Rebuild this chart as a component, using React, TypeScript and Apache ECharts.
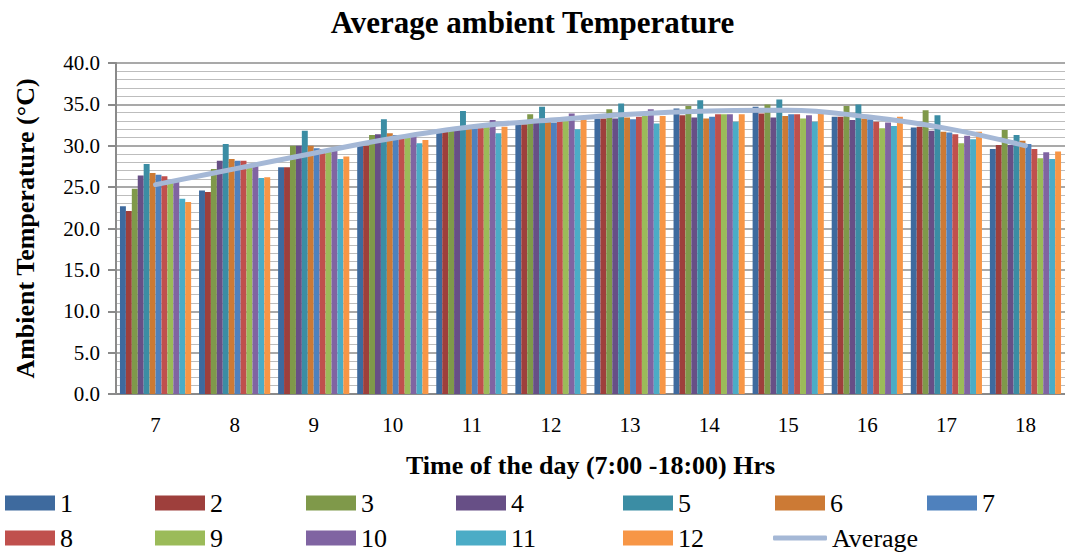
import React, { useEffect, useRef } from "react";
import * as echarts from "echarts";

const categories = ["7", "8", "9", "10", "11", "12", "13", "14", "15", "16", "17", "18"];
const seriesNames = ["1", "2", "3", "4", "5", "6", "7", "8", "9", "10", "11", "12"];
const s1 = [22.7, 24.6, 27.4, 30.0, 31.6, 32.6, 33.3, 34.5, 34.7, 33.5, 32.2, 29.6];
const s2 = [22.1, 24.4, 27.4, 30.0, 31.7, 32.6, 33.3, 33.7, 33.9, 33.5, 32.3, 30.1];
const s3 = [24.8, 27.2, 30.0, 31.3, 31.9, 33.8, 34.4, 34.8, 35.0, 34.8, 34.3, 31.9];
const s4 = [26.4, 28.2, 30.0, 31.4, 31.9, 32.8, 33.3, 33.4, 33.4, 33.1, 31.8, 30.1];
const s5 = [27.8, 30.2, 31.8, 33.2, 34.2, 34.7, 35.1, 35.5, 35.6, 35.0, 33.7, 31.3];
const s6 = [26.7, 28.4, 30.0, 31.5, 32.1, 32.9, 33.4, 33.3, 33.6, 33.3, 31.7, 30.6];
const s7 = [26.5, 28.2, 29.7, 31.3, 32.1, 32.8, 33.2, 33.5, 33.8, 33.2, 31.6, 30.2];
const s8 = [26.3, 28.2, 29.6, 31.2, 32.2, 33.0, 33.5, 33.8, 33.8, 32.9, 31.4, 29.6];
const s9 = [25.5, 27.8, 29.6, 31.2, 32.3, 33.1, 33.6, 33.8, 33.3, 32.1, 30.3, 28.5];
const s10 = [25.8, 27.6, 29.7, 31.2, 33.1, 33.9, 34.4, 33.8, 33.7, 32.8, 31.2, 29.2];
const s11 = [23.6, 26.1, 28.4, 30.3, 31.5, 32.0, 32.7, 32.9, 32.9, 32.4, 30.8, 28.4];
const s12 = [23.2, 26.2, 28.7, 30.7, 32.3, 33.2, 33.6, 33.8, 34.3, 33.5, 31.7, 29.3];
const average = [25.3, 27.2, 29.1, 30.9, 32.3, 33.1, 33.8, 34.2, 34.3, 33.5, 32.1, 30.0];

const seriesValues = [s1, s2, s3, s4, s5, s6, s7, s8, s9, s10, s11, s12];
const colors = [
  "#3E6A9E", "#9E3F3C", "#7F994A", "#674F86", "#3B8DA4", "#CC7A35",
  "#4F81BD", "#C0504D", "#9BBB59", "#8064A2", "#4BACC6", "#F79646",
];
const avgColor = "#A5B8D6";

const FONT = "Liberation Serif";

export default function App() {
  const ref = useRef<HTMLDivElement>(null);
  useEffect(() => {
    document.body.style.margin = "0";
    if (!ref.current) return;
    const chart = echarts.init(ref.current, undefined, { renderer: "svg" });

    const legendLeft = [5, 155, 306, 456, 623, 775, 927, 5, 155, 306, 456, 623];
    const legends: any[] = seriesNames.map((n, i) => ({
      data: [n],
      left: legendLeft[i],
      top: i < 7 ? 488 : 523,
      padding: 0,
      itemWidth: 50,
      itemHeight: 15,
      icon: "rect",
      selectedMode: false,
      textStyle: { fontFamily: FONT, fontSize: 26, color: "#000", lineHeight: 30 },
    }));
    legends.push({
      data: ["Average"],
      left: 773,
      top: 523,
      padding: 0,
      itemWidth: 54,
      itemHeight: 5,
      icon: "roundRect",
      selectedMode: false,
      textStyle: { fontFamily: FONT, fontSize: 26, color: "#000", lineHeight: 30 },
    });

    const barSeries = seriesNames.map((n, i) => ({
      name: n,
      type: "bar",
      data: seriesValues[i],
      barGap: "0%",
      barCategoryGap: "10%",
      itemStyle: { color: colors[i] },
    }));

    chart.setOption({
      animation: false,
      title: {
        text: "Average ambient Temperature",
        left: "center",
        top: 2,
        textStyle: { fontFamily: FONT, fontSize: 31, fontWeight: "bold", color: "#000" },
      },
      legend: legends,
      grid: { left: 116, top: 63, right: -8, bottom: 161, containLabel: false },
      xAxis: {
        type: "category",
        data: categories,
        name: "Time of the day (7:00 -18:00) Hrs",
        nameLocation: "middle",
        nameGap: 58,
        nameTextStyle: { fontFamily: FONT, fontSize: 26, fontWeight: "bold", color: "#000" },
        axisLine: { lineStyle: { color: "#8a8a8a", width: 2 } },
        axisTick: { show: false },
        axisLabel: { fontFamily: FONT, fontSize: 21, color: "#000", margin: 20 },
      },
      yAxis: {
        type: "value",
        min: 0,
        max: 40,
        interval: 5,
        name: "Ambient Temperature (°C)",
        nameLocation: "middle",
        nameRotate: 90,
        nameGap: 78,
        nameTextStyle: { fontFamily: FONT, fontSize: 26, fontWeight: "bold", color: "#000" },
        axisLine: { show: true, lineStyle: { color: "#8a8a8a", width: 2 } },
        axisTick: { show: true, length: 8, lineStyle: { color: "#8a8a8a", width: 2 } },
        axisLabel: {
          fontFamily: FONT,
          fontSize: 21,
          color: "#000",
          margin: 16,
          formatter: (v: number) => v.toFixed(1),
        },
        splitLine: { show: true, lineStyle: { color: "#8c8c8c", width: 1.5 } },
        minorTick: { show: true, splitNumber: 5, length: 0 },
        minorSplitLine: { show: true, lineStyle: { color: "#bdbdbd", width: 1.2 } },
      },
      series: [
        ...barSeries,
        {
          name: "Average",
          type: "line",
          data: average,
          smooth: 0.4,
          symbol: "none",
          z: 5,
          lineStyle: { color: avgColor, width: 5, cap: "round" },
          itemStyle: { color: avgColor },
        },
      ],
    });
    return () => chart.dispose();
  }, []);
  return <div ref={ref} style={{ width: 1065, height: 555 }} />;
}
